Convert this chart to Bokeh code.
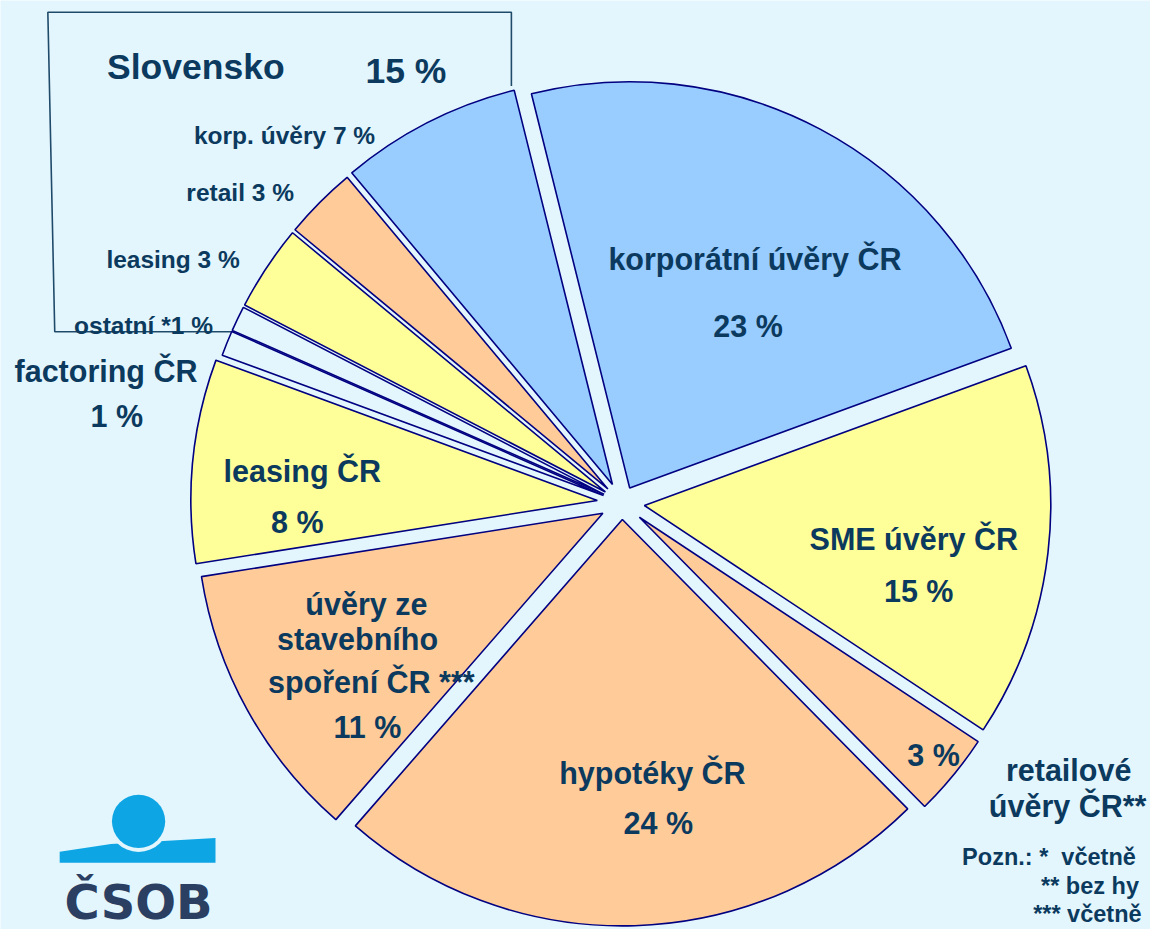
import numpy as np
from bokeh.plotting import figure
from bokeh.models import Range1d, ColumnDataSource
from bokeh.core.properties import value
from bokeh.embed import file_html
from bokeh.resources import INLINE

# ---------------- data ----------------
categories = ["korporátní úvěry ČR", "SME úvěry ČR", "retailové úvěry ČR", "hypotéky ČR",
              "úvěry ze stavebního spoření ČR", "leasing ČR", "factoring ČR", "ostatní SK",
              "leasing SK", "retail SK", "korp. úvěry SK"]
shares = [23.3, 14.9, 3.3, 23.8, 11.1, 8.1, 1.0, 1.0, 3.4, 2.9, 7.2]
label_pct = [23, 15, 3, 24, 11, 8, 1, 1, 3, 3, 7]
slovensko_total = 15

# ---------------- style ----------------
BG = "#E4F6FD"
BLUE = "#99CCFF"
YELLOW = "#FFFF99"
PEACH = "#FFCC99"
OUTLINE = "#000080"
TXT = "#0B3A5E"
fills = [BLUE, YELLOW, PEACH, PEACH, PEACH, YELLOW, BG, BG, YELLOW, PEACH, BLUE]
explode = [17, 23, 23, 17, 22, 25, 20, 20, 20, 20, 21]
START_CW = -14.0     # degrees clockwise from 12 o'clock
RADIUS = 412
CX, CY_IMG = 630, 511
W, H = 1166, 945

def Y(y_img):
    return H - y_img

p = figure(width=1150, height=929, x_range=Range1d(0, W), y_range=Range1d(0, H),
           output_backend="svg", toolbar_location=None, min_border=0,
           x_axis_location=None, y_axis_location=None,
           background_fill_color=BG, border_fill_color=BG, outline_line_color=None)
p.xgrid.visible = False
p.ygrid.visible = False

# Slovensko box
p.line(x=[518, 518, 48, 55, 237], y=[Y(87), Y(12), Y(12), Y(337), Y(337)],
       line_color="#1F4A6A", line_width=1.6)

# pie slices
total = float(sum(shares))
cum = np.concatenate([[0], np.cumsum(shares)[:-1]])
th1 = START_CW + cum / total * 360.0
th2 = th1 + np.array(shares) / total * 360.0
mid = np.radians((th1 + th2) / 2)
xs = CX + np.array(explode) * np.sin(mid)
ys = Y(CY_IMG) + np.array(explode) * np.cos(mid)
src = ColumnDataSource(dict(x=xs, y=ys,
                            start=np.radians(90 - th2), end=np.radians(90 - th1),
                            fill=fills, cat=categories))
p.wedge(x="x", y="y", radius=RADIUS, start_angle="start", end_angle="end",
        fill_color="fill", line_color=OUTLINE, line_width=1.6, source=src)

FONT = value("Liberation Sans")

def labels(items, size, align="center"):
    xs_ = [i[1] for i in items]
    ys_ = [Y(i[2]) for i in items]
    tx = [i[0] for i in items]
    p.text(x=xs_, y=ys_, text=tx, text_font=FONT, text_font_style="bold",
           text_font_size=size, text_color=TXT, text_align=align,
           text_baseline="alphabetic")

big = [
    ("korporátní úvěry ČR", 765, 263), (f"{label_pct[0]} %", 758, 331),
    ("SME úvěry ČR", 926, 548), (f"{label_pct[1]} %", 931, 601),
    (f"{label_pct[2]} %", 946, 768),
    ("retailové", 1083, 783), ("úvěry ČR**", 1082, 819),
    ("hypotéky ČR", 661, 786), (f"{label_pct[3]} %", 667, 837),
    ("úvěry ze", 371, 614), ("stavebního", 362, 649), ("spoření ČR ***", 376, 693),
    (f"{label_pct[4]} %", 372, 739),
    ("leasing ČR", 306, 479), (f"{label_pct[5]} %", 301, 530),
    ("factoring ČR", 107, 377), (f"{label_pct[6]} %", 118, 423),
]
labels(big, "30.5px")

small = [
    (f"korp. úvěry {label_pct[10]} %", 288, 137),
    (f"retail {label_pct[9]} %", 243, 195),
    (f"leasing {label_pct[8]} %", 175, 263),
    (f"ostatní *{label_pct[7]} %", 145, 331),
]
labels(small, "24.5px")

labels([("Slovensko", 198, 68), (f"{slovensko_total} %", 411, 72)], "35.5px")

labels([("Pozn.: *\u00a0 včetně", 975, 871), ("** bez hy", 1055, 901), ("*** včetně", 1047, 929)],
       "23.5px", align="left")

# ČSOB logo
LOGO_BLUE = "#0EA5E4"
p.patch(x=[60, 112, 218, 218, 60], y=[Y(866), Y(858), Y(852), Y(877), Y(877)],
        fill_color=LOGO_BLUE, line_color=None)
p.circle(x=[140], y=[Y(835)], radius=31, fill_color=BG, line_color=None)
p.circle(x=[140], y=[Y(835)], radius=27, fill_color=LOGO_BLUE, line_color=None)
p.text(x=[140], y=[Y(917)], text=["ČSOB"], text_font=value("DejaVu Sans"),
       text_font_style="bold", text_font_size="48px", text_color="#2B3F63",
       text_align="center", text_baseline="alphabetic")

open("out.html", "w").write(file_html(p, INLINE))
